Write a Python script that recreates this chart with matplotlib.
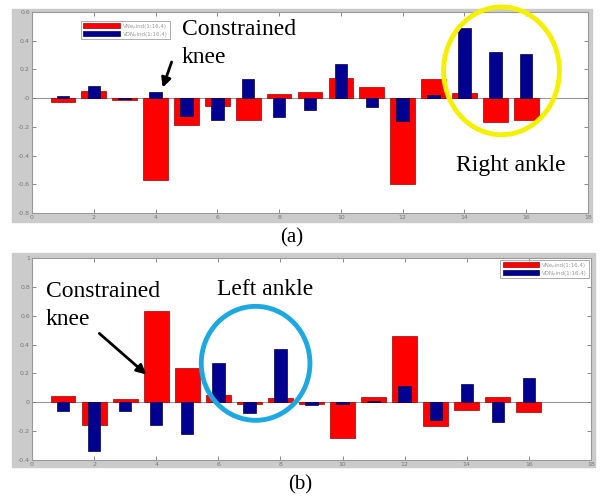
import numpy as np
import matplotlib
matplotlib.use('Agg')
import matplotlib.pyplot as plt
from matplotlib.patches import Ellipse, Rectangle

# joint index 1..16
joints = np.arange(1, 17)

# panel (a)
vne_a = [-0.03, 0.05, -0.01, -0.57, -0.19, -0.055, -0.155, 0.03,
         0.04, 0.14, 0.077, -0.60, 0.13, 0.035, -0.165, -0.155]
vdn_a = [0.015, 0.084, -0.005, 0.044, -0.126, -0.154, 0.133, -0.13,
         -0.08, 0.24, -0.06, -0.16, 0.02, 0.486, 0.32, 0.31]

# panel (b)
vne_b = [0.044, -0.16, 0.02, 0.63, 0.236, 0.05, -0.01, 0.03,
         -0.01, -0.25, 0.04, 0.46, -0.163, -0.05, 0.035, -0.07]
vdn_b = [-0.06, -0.34, -0.06, -0.155, -0.22, 0.27, -0.077, 0.37,
         -0.02, -0.01, 0.01, 0.115, -0.12, 0.13, -0.135, 0.165]

xticks = np.arange(0, 19, 2)
yticks_a = np.round(np.arange(-0.8, 0.61, 0.2), 1)
yticks_b = np.round(np.arange(-0.4, 1.01, 0.2), 1)
labels = ['VNeₚind(1:16,4)', 'VDNₚind(1:16,4)']

W, H = 601, 500
fig = plt.figure(figsize=(W / 100, H / 100), dpi=100)
serif = ['Liberation Serif', 'DejaVu Serif']


def px(x0, y0, x1, y1):
    # pixel box (top-left origin) -> figure fraction
    return [x0 / W, 1 - y1 / H, (x1 - x0) / W, (y1 - y0) / H]


def panel(box, frame, red, blue, yticks, ylim, legloc):
    fig.patches.append(Rectangle((frame[0], frame[1]), frame[2], frame[3],
                                 transform=fig.transFigure, color='#cbcbcb',
                                 zorder=-5))
    ax = fig.add_axes(box)
    ax.set_zorder(2)
    ax.bar(joints, red, width=0.8, color='#ff0000', edgecolor='#a00000',
           linewidth=0.5, label=labels[0], zorder=2)
    ax.bar(joints, blue, width=0.4, color='#000090', edgecolor='#000050',
           linewidth=0.5, label=labels[1], zorder=3)
    ax.axhline(0, color='#999999', lw=0.8, zorder=1)
    ax.set_xlim(0, 18)
    ax.set_ylim(*ylim)
    ax.set_xticks(xticks)
    ax.set_yticks(yticks)
    ax.set_yticklabels(['%g' % v for v in yticks])
    ax.tick_params(direction='in', length=3, width=0.6, labelsize=4.5,
                   colors='#777777', top=True, right=True, pad=1.5)
    for s in ax.spines.values():
        s.set_color('#999999')
        s.set_linewidth(0.8)
    leg = ax.legend(loc=legloc, frameon=True, fancybox=False,
                    edgecolor='#888888', handlelength=6.5, handleheight=1.0,
                    borderpad=0.45, labelspacing=0.5, handletextpad=0.6,
                    borderaxespad=0.3, prop={'family': 'DejaVu Sans', 'size': 4})
    leg.get_frame().set_linewidth(0.6)
    for t in leg.get_texts():
        t.set_color('#999999')
    return ax


ax_a = panel(px(32, 12, 588, 213), [12 / W, 1 - 222 / H, 580 / W, 213 / H],
             vne_a, vdn_a, yticks_a, (-0.8, 0.6), 'upper left')
ax_a.get_legend().set_bbox_to_anchor((0.085, 0.965))

ax_b = panel(px(32, 258, 591, 460), [12 / W, 1 - 467 / H, 583 / W, 214 / H],
             vne_b, vdn_b, yticks_b, (-0.4, 1.0), 'upper right')

# annotations panel (a)
ax_a.text(4.85, 0.55, 'Constrained\nknee', family=serif, fontsize=17,
          va='top', ha='left', linespacing=1.45, zorder=5)
ax_a.annotate('', xy=(4.2, 0.055), xytext=(4.55, 0.27),
              arrowprops=dict(arrowstyle='-|>', color='black', lw=2,
                              mutation_scale=14), zorder=5)
ax_a.add_patch(Ellipse((15.2, 0.19), 3.75, 0.89, fill=False,
                       edgecolor='#f5f000', lw=3.5, zorder=6, clip_on=False))
ax_a.text(15.5, -0.47, 'Right ankle', family=serif, fontsize=17,
          ha='center', va='center', zorder=5)

# annotations panel (b)
ax_b.text(0.45, 0.84, 'Constrained\nknee', family=serif, fontsize=17,
          va='top', ha='left', linespacing=1.45, zorder=5)
ax_b.annotate('', xy=(3.75, 0.18), xytext=(2.1, 0.49),
              arrowprops=dict(arrowstyle='-|>', color='black', lw=2,
                              mutation_scale=14), zorder=5)
ax_b.add_patch(Ellipse((7.2, 0.27), 3.5, 0.79, fill=False,
                       edgecolor='#1ea8e2', lw=3.5, zorder=6))
ax_b.text(7.5, 0.78, 'Left ankle', family=serif, fontsize=17,
          ha='center', va='center', zorder=5)

fig.text(292 / W, 1 - 238 / H, '(a)', family=serif, fontsize=15,
         ha='center', va='center')
fig.text(300 / W, 1 - 485 / H, '(b)', family=serif, fontsize=15,
         ha='center', va='center')

fig.savefig('out.png', dpi=100)
